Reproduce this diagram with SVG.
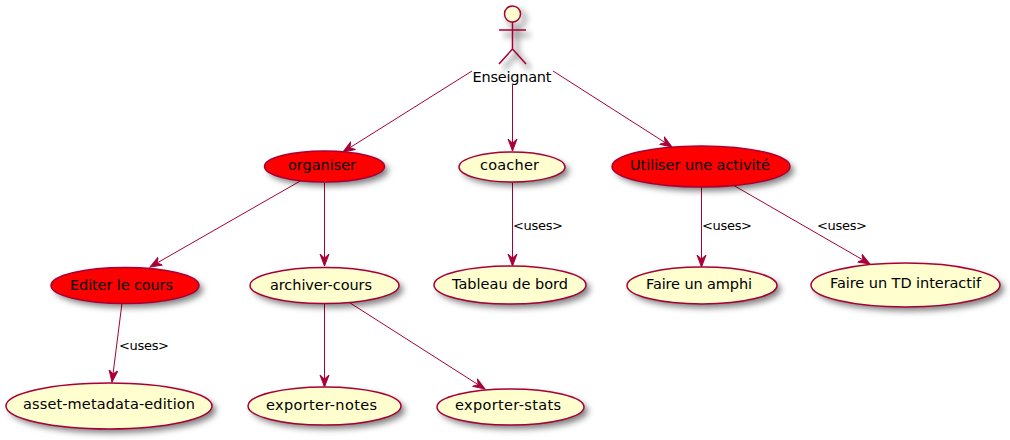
<svg xmlns="http://www.w3.org/2000/svg" width="1010" height="440" viewBox="0 0 1010 440">
<defs>
<filter id="sh" x="-10%" y="-25%" width="125%" height="170%"><feGaussianBlur stdDeviation="3"/></filter>
<marker id="arr" viewBox="0 0 14 12" refX="12" refY="5" markerWidth="14" markerHeight="12" orient="auto" markerUnits="userSpaceOnUse"><path d="M12,5 L0,0.500 L4,5 L0,9.500 Z" fill="#A80036" stroke="#A80036" stroke-width="1"/></marker>
</defs>
<style>
text{font-family:"DejaVu Sans",sans-serif;fill:#000}
.n{font-size:14.500px}
.l{font-size:13px}
.e{stroke:#A80036;stroke-width:1.5}
.y{fill:#FEFECE}
.r{fill:#FF0000}
.s{fill:#000;fill-opacity:.5;filter:url(#sh)}
.c{fill:none;stroke:#A80036;stroke-width:1;marker-end:url(#arr)}
.a{fill:none;stroke:#A80036;stroke-width:1.5}
</style>
<g id="connectors">
<path class="c" d="M472,71 L343,152"/>
<path class="c" d="M512.500,85 L512.500,151"/>
<path class="c" d="M553,71 L672,147"/>
<path class="c" d="M302,180 L150,267"/>
<path class="c" d="M324.500,183 L324.500,266"/>
<path class="c" d="M512.500,183 L512.500,266"/>
<path class="c" d="M701.500,187 L701.500,267"/>
<path class="c" d="M733,185 L870,264"/>
<path class="c" d="M122,303 L112,382"/>
<path class="c" d="M324.500,303 L324.500,387"/>
<path class="c" d="M347,301 L485,389"/>
<text class="l" x="513" y="230" textLength="50">&lt;uses&gt;</text>
<text class="l" x="702" y="230" textLength="50">&lt;uses&gt;</text>
<text class="l" x="817" y="230" textLength="50">&lt;uses&gt;</text>
<text class="l" x="119" y="350" textLength="50">&lt;uses&gt;</text>
</g>
<g id="actor">
<g transform="translate(5,5)" filter="url(#sh)" fill="none" stroke="#000" stroke-opacity=".6" stroke-width="2.500"><circle cx="512" cy="14" r="8"/><path d="M512,22 V49 M499,30 H525 M512,49 L499,64 M512,49 L525,64"/></g>
<circle class="y e" cx="512.500" cy="14" r="8"/>
<path class="a" d="M512.500,22 V49 M499,30 H526 M512.500,49 L499,64 M512.500,49 L526,64"/>
<text class="n" x="472.500" y="82" textLength="79">Enseignant</text>
</g>
<g id="organiser"><ellipse class="s" cx="328.500" cy="170.500" rx="60" ry="15.500"/><ellipse class="r e" cx="324.500" cy="166.500" rx="60" ry="15.500"/><text class="n" x="288" y="170" textLength="68">organiser</text></g>
<g id="coacher"><ellipse class="s" cx="516" cy="171" rx="53" ry="15"/><ellipse class="y e" cx="512" cy="167" rx="53" ry="15"/><text class="n" x="480" y="170" textLength="59">coacher</text></g>
<g id="utiliser"><ellipse class="s" cx="705" cy="170.500" rx="89" ry="20.500"/><ellipse class="r e" cx="701" cy="166.500" rx="89" ry="20.500"/><text class="n" x="630" y="170" textLength="140">Utiliser une activité</text></g>
<g id="editer"><ellipse class="s" cx="129" cy="289.500" rx="74" ry="18"/><ellipse class="r e" cx="125" cy="285.500" rx="74" ry="18"/><text class="n" x="70" y="290" textLength="103">Editer le cours</text></g>
<g id="archiver"><ellipse class="s" cx="328.500" cy="289.500" rx="74.500" ry="18"/><ellipse class="y e" cx="324.500" cy="285.500" rx="74.500" ry="18"/><text class="n" x="270" y="290" textLength="102">archiver-cours</text></g>
<g id="tableau"><ellipse class="s" cx="514" cy="289" rx="76" ry="19"/><ellipse class="y e" cx="510" cy="285" rx="76" ry="19"/><text class="n" x="452" y="289" textLength="116">Tableau de bord</text></g>
<g id="amphi"><ellipse class="s" cx="706" cy="289.500" rx="75" ry="18.500"/><ellipse class="y e" cx="702" cy="285.500" rx="75" ry="18.500"/><text class="n" x="646" y="289" textLength="106">Faire un amphi</text></g>
<g id="td"><ellipse class="s" cx="909.500" cy="289" rx="94.500" ry="22"/><ellipse class="y e" cx="905.500" cy="285" rx="94.500" ry="22"/><text class="n" x="830" y="288" textLength="151">Faire un TD interactif</text></g>
<g id="asset"><ellipse class="s" cx="113" cy="410" rx="103" ry="23"/><ellipse class="y e" cx="109" cy="406" rx="103" ry="23"/><text class="n" x="23" y="409" textLength="172">asset-metadata-edition</text></g>
<g id="notes"><ellipse class="s" cx="328.500" cy="410" rx="76.500" ry="19"/><ellipse class="y e" cx="324.500" cy="406" rx="76.500" ry="19"/><text class="n" x="266" y="410" textLength="111">exporter-notes</text></g>
<g id="stats"><ellipse class="s" cx="514.500" cy="411" rx="73.500" ry="18"/><ellipse class="y e" cx="510.500" cy="407" rx="73.500" ry="18"/><text class="n" x="455" y="410" textLength="106">exporter-stats</text></g>
</svg>
